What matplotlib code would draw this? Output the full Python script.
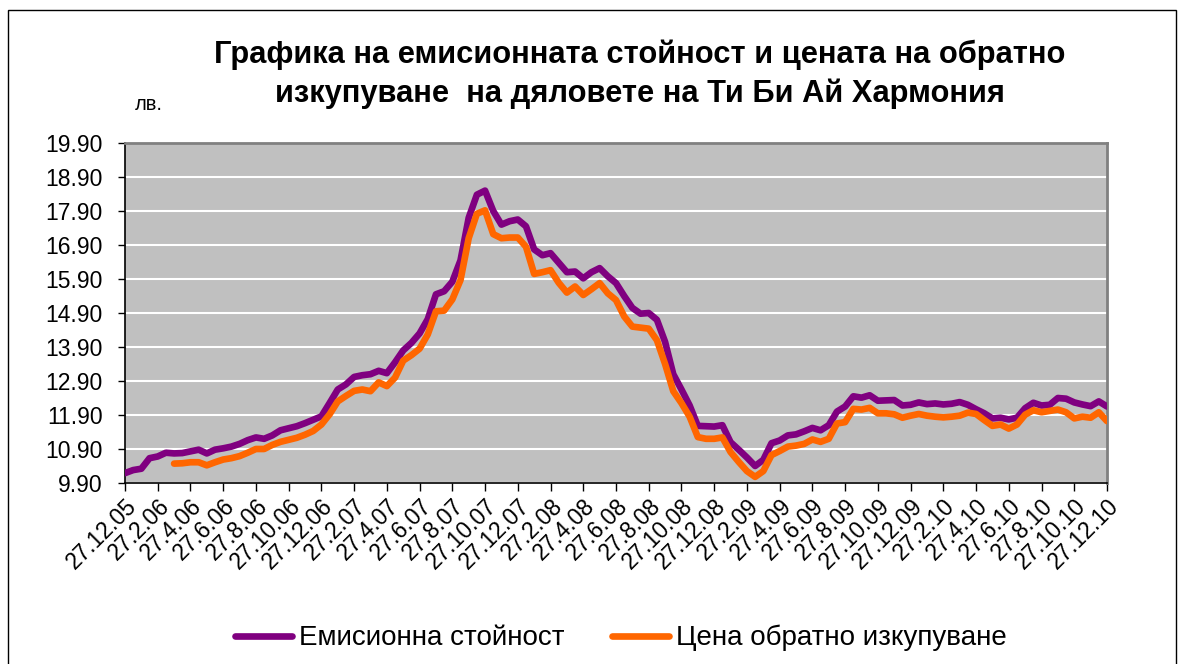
import matplotlib
matplotlib.use("Agg")
import matplotlib.pyplot as plt
import numpy as np
from matplotlib.patches import Rectangle

plt.rcParams['font.family'] = ['Liberation Sans', 'DejaVu Sans']

# semi-monthly readings, month 0 = 27.12.05
emission_2006 = [10.19, 10.28, 10.32, 10.63, 10.68, 10.79, 10.77, 10.78, 10.83, 10.88, 10.77, 10.88,
                 10.92, 10.97, 11.05, 11.16, 11.24, 11.20, 11.30, 11.45, 11.51, 11.57, 11.66, 11.76]
emission_2007 = [11.86, 12.25, 12.65, 12.80, 13.02, 13.07, 13.10, 13.20, 13.13, 13.45, 13.80, 14.02,
                 14.30, 14.72, 15.45, 15.54, 15.82, 16.45, 17.70, 18.38, 18.50, 17.90, 17.50, 17.60]
emission_2008 = [17.65, 17.45, 16.77, 16.60, 16.66, 16.38, 16.10, 16.12, 15.92, 16.10, 16.22, 15.98,
                 15.78, 15.40, 15.05, 14.88, 14.90, 14.70, 14.05, 13.10, 12.65, 12.18, 11.58, 11.57]
emission_2009 = [11.56, 11.60, 11.10, 10.88, 10.65, 10.40, 10.58, 11.07, 11.15, 11.30, 11.33, 11.42,
                 11.52, 11.45, 11.60, 12.00, 12.15, 12.45, 12.41, 12.48, 12.32, 12.33, 12.34, 12.18]
emission_2010 = [12.20, 12.27, 12.22, 12.24, 12.21, 12.23, 12.28, 12.20, 12.07, 11.95, 11.80, 11.82,
                 11.77, 11.82, 12.10, 12.26, 12.18, 12.20, 12.40, 12.38, 12.27, 12.21, 12.16, 12.30,
                 12.15]

redemption_2006 = [np.nan, np.nan, np.nan, np.nan, np.nan, np.nan, 10.47, 10.48, 10.51, 10.51, 10.42, 10.51,
                   10.59, 10.63, 10.69, 10.79, 10.90, 10.90, 11.02, 11.11, 11.17, 11.23, 11.32, 11.43]
redemption_2007 = [11.62, 11.92, 12.30, 12.46, 12.61, 12.65, 12.60, 12.86, 12.75, 13.00, 13.50, 13.66,
                   13.85, 14.27, 14.95, 14.97, 15.30, 15.87, 17.10, 17.82, 17.92, 17.22, 17.10, 17.12]
redemption_2008 = [17.12, 16.85, 16.05, 16.10, 16.16, 15.79, 15.50, 15.68, 15.43, 15.60, 15.78, 15.48,
                   15.28, 14.80, 14.50, 14.47, 14.44, 14.10, 13.40, 12.60, 12.25, 11.85, 11.25, 11.20]
redemption_2009 = [11.20, 11.24, 10.81, 10.52, 10.25, 10.08, 10.25, 10.72, 10.84, 10.97, 11.00, 11.05,
                   11.18, 11.11, 11.20, 11.65, 11.69, 12.08, 12.06, 12.11, 11.95, 11.95, 11.92, 11.82]
redemption_2010 = [11.88, 11.93, 11.88, 11.85, 11.83, 11.85, 11.88, 11.97, 11.93, 11.75, 11.58, 11.62,
                   11.50, 11.62, 11.91, 12.04, 11.98, 12.02, 12.06, 11.98, 11.80, 11.85, 11.82, 11.98,
                   11.72]

tick_labels = ['27.12.05', '27.2.06', '27.4.06', '27.6.06', '27.8.06', '27.10.06',
               '27.12.06', '27.2.07', '27.4.07', '27.6.07', '27.8.07', '27.10.07',
               '27.12.07', '27.2.08', '27.4.08', '27.6.08', '27.8.08', '27.10.08',
               '27.12.08', '27.2.09', '27.4.09', '27.6.09', '27.8.09', '27.10.09',
               '27.12.09', '27.2.10', '27.4.10', '27.6.10', '27.8.10', '27.10.10',
               '27.12.10']

emission = emission_2006 + emission_2007 + emission_2008 + emission_2009 + emission_2010
redemption = redemption_2006 + redemption_2007 + redemption_2008 + redemption_2009 + redemption_2010
months = np.arange(len(emission)) * 0.5

fig = plt.figure(figsize=(11.87, 6.64), dpi=100)
ax = fig.add_axes([0.1053, 0.2726, 0.8273, 0.512])
ax.set_facecolor('#C0C0C0')

# outer chart frame
fig.patches.append(Rectangle((8 / 1187, -0.05), (1176 - 8) / 1187, 1.05 - 10 / 664,
                             transform=fig.transFigure, fill=False, edgecolor='black', linewidth=1))

ax.plot(months, emission, color='#800080', linewidth=4.8, solid_joinstyle='round',
        solid_capstyle='round', label='Емисионна стойност', zorder=3)
ax.plot(months, redemption, color='#FF6600', linewidth=4.8, solid_joinstyle='round',
        solid_capstyle='round', label='Цена обратно изкупуване', zorder=4)

ax.set_xlim(0, 60)
ax.set_ylim(9.90, 19.90)
yticks = np.arange(9.90, 19.95, 1.0)
ax.set_yticks(yticks)
ax.set_yticklabels(['%.2f' % v for v in yticks], fontsize=16.5)
ax.set_xticks(np.arange(0, 61, 2))
ax.set_xticklabels(tick_labels, fontsize=16.5, rotation=45, ha='right', va='top',
                   rotation_mode='anchor')
ax.yaxis.grid(True, color='white', linewidth=1.5)
ax.set_axisbelow(True)
ax.tick_params(axis='y', length=5, width=1, color='black', pad=11)
ax.tick_params(axis='x', length=5.5, width=1, color='black', pad=3)

for side in ['left', 'bottom']:
    ax.spines[side].set_color('black')
    ax.spines[side].set_linewidth(1.2)
for side in ['top', 'right']:
    ax.spines[side].set_color('#808080')
    ax.spines[side].set_linewidth(2)

fig.text(0.539, 0.888, 'Графика на емисионната стойност и цената на обратно\n'
         'изкупуване  на дяловете на Ти Би Ай Хармония',
         ha='center', va='center', fontsize=22.2, fontweight='bold', linespacing=1.38)
fig.text(0.125, 0.842, 'лв.', ha='center', va='center', fontsize=14.5)

fig.legend(loc='center', bbox_to_anchor=(0.523, 0.039), ncol=2, frameon=False,
           fontsize=20, handlelength=2.05, handletextpad=0.25, columnspacing=1.7)

plt.savefig('out.png', dpi=100)
